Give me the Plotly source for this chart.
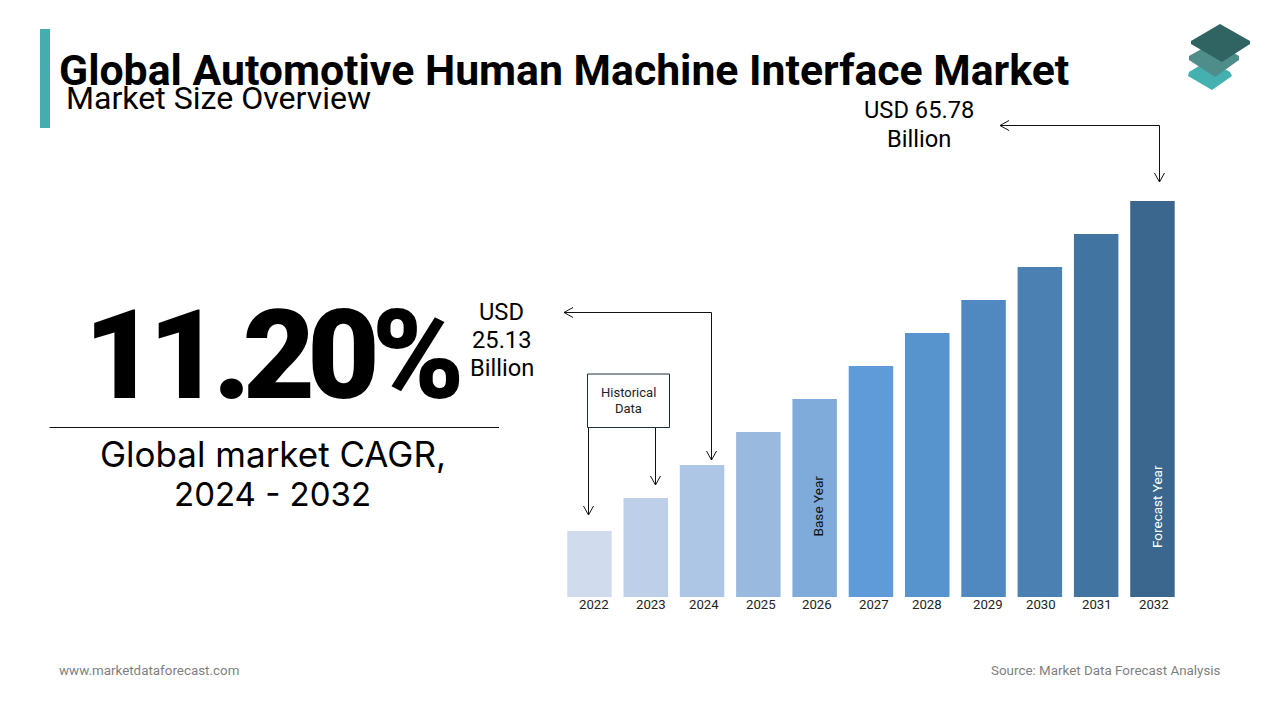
import plotly.graph_objects as go

years = ["2022","2023","2024","2025","2026","2027","2028","2029","2030","2031","2032"]
bar_values = [10.96,16.45,21.93,27.41,32.89,38.37,43.85,49.33,54.82,60.30,65.78]
bar_colors = ["#D0DCEE","#BED0E9","#AEC6E5","#99B9DF","#7FABDB","#5E9BD8",
              "#5793CC","#5089C0","#4A80B2","#4274A1","#3B678F"]
label_px = [594,651,704,761,817,874,927,988,1041,1097,1154]

W, H = 1280, 720
px = lambda x: x / W
py = lambda y: 1 - y / H

fig = go.Figure(go.Bar(x=years, y=bar_values, marker=dict(color=bar_colors, line_width=0),
                       width=0.79, hoverinfo="x+y"))

shapes = []
def line(x0, y0, x1, y1, color="#111111", w=1):
    shapes.append(dict(type="line", xref="paper", yref="paper", x0=px(x0), y0=py(y0), x1=px(x1), y1=py(y1),
                       line=dict(color=color, width=w)))
def poly(pts, fill):
    d = "M " + " L ".join(f"{px(a):.5f},{py(b):.5f}" for a, b in pts) + " Z"
    shapes.append(dict(type="path", xref="paper", yref="paper", path=d, fillcolor=fill, line_width=0))
def vee(pts):
    d = "M " + " L ".join(f"{px(a):.5f},{py(b):.5f}" for a, b in pts)
    shapes.append(dict(type="path", xref="paper", yref="paper", path=d, line=dict(color="#111111", width=1)))
def down(x, y): vee([(x-5, y-9), (x, y), (x+5, y-9)])
def left(x, y): vee([(x+9, y-5), (x, y), (x+9, y+5)])

poly([(40,29),(50,29),(50,128),(40,128)], "#45ADAD")
line(49.5, 427.5, 499, 427.5, "#111111", 1)

# arrows
line(1159.5,125.5,1000,125.5); line(1159.5,125.5,1159.5,182); left(1000,125.5); down(1159.5,182)
line(711.5,312.5,564,312.5); line(711.5,312.5,711.5,460); left(564,312.5); down(711.5,460)
line(588.5,428,588.5,515); down(588.5,515)
line(655.5,428,655.5,485); down(655.5,485)
shapes.append(dict(type="rect", xref="paper", yref="paper", x0=px(587.5), x1=px(669.5), y0=py(374), y1=py(427.5),
                   line=dict(color="#1B3040", width=1), fillcolor="white"))

# logo
poly([(1209,60),(1230,72),(1232,76),(1212,90),(1188,76),(1189,72)], "#45B0B0")
poly([(1214,42),(1239,56),(1239,60),(1215,77),(1189,60),(1189,56)], "#4F8D8B")
poly([(1220,24),(1250,41),(1250,44),(1222,62),(1191,44),(1191,41)], "#2F6462")

annotations = []
def text(x, y, s, size, color="#000000", family="Roboto", weight=400, anchor="center", angle=0):
    annotations.append(dict(xref="paper", yref="paper", x=px(x), y=py(y), text=s, showarrow=False,
                            xanchor=anchor, yanchor="middle", textangle=angle, align="center",
                            font=dict(size=size, color=color, family=family, weight=weight)))

text(57, 70, "Global Automotive Human Machine Interface Market", 42.75, weight=700, anchor="left")
text(64, 98, "Market Size Overview", 32.1, anchor="left")
text(272, 355, '<span style="letter-spacing:-8px">11.20%</span>', 125, family="Roboto", weight=900)
text(272.5, 454, "Global market CAGR,", 35, family="Inter")
text(272.5, 493.5, "2024 - 2032", 33, family="Inter")
text(919, 109.5, "USD 65.78", 23.7)
text(919, 138.5, "Billion", 23.7)
text(501.5, 311.5, "USD", 23.7)
text(501.5, 340, "25.13", 23.7)
text(501.5, 368.5, "Billion", 23.7)
text(628.5, 393, "Historical", 13, color="#222222")
text(628.5, 408.5, "Data", 13, color="#222222")
text(817.5, 506, "Base Year", 13.6, color="#111111", angle=-90)
text(1157, 507, "Forecast Year", 13.5, color="#FFFFFF", angle=-90)
for yr, lx in zip(years, label_px):
    text(lx, 604, yr, 13.2, color="#222222")
text(57, 670, "www.marketdataforecast.com", 13.4, color="#7F7F7F", anchor="left")
text(1222.5, 670, "Source: Market Data Forecast Analysis", 13.4, color="#7F7F7F", anchor="right")

fig.update_layout(
    width=W, height=H, margin=dict(l=0, r=0, t=0, b=0), autosize=False,
    paper_bgcolor="white", plot_bgcolor="white", showlegend=False,
    xaxis=dict(domain=[px(561.3), px(1180.6)], range=[-0.5, 10.5], type="category", visible=False),
    yaxis=dict(domain=[py(597), py(201)], range=[0, 65.78], visible=False),
    shapes=shapes, annotations=annotations,
)
fig.write_html("out.html", config=dict(displayModeBar=False),
               post_script="document.body.style.margin='0';document.documentElement.style.overflow='hidden';")
